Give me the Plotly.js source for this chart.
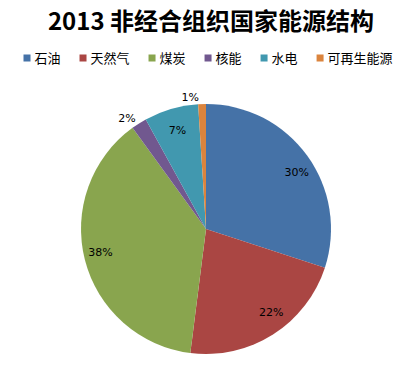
<!DOCTYPE html>
<html><head><meta charset="utf-8">
<script src="https://cdn.plot.ly/plotly-3.0.1.min.js"></script>
<style>html,body{margin:0;padding:0;background:#fff}#chart{width:401px;height:372px}</style>
</head><body><div id="chart"></div>
<script>
const categories = ['石油', '天然气', '煤炭', '核能', '水电', '可再生能源'];
const shares = [30, 22, 38, 2, 7, 1];
const colors = ['#4572A7', '#AA4643', '#89A54E', '#71588F', '#4198AF', '#DB843D'];
// which labels sit on the big pie (small slices outside it, 7% inside)
const mainLabelPos = ['none', 'none', 'none', 'outside', 'inside', 'outside'];
// big slices get their label from an invisible inner pie (placed just outside it)
const innerLabelPos = ['outside', 'outside', 'outside', 'none', 'none', 'none'];

const labelFont = {family: 'DejaVu Sans, Liberation Sans, sans-serif', size: 11, color: '#000'};

// pie geometry (paper px): centre (206,229), radius 125 ; inner label ring radius 93
const W = 401, H = 372, cx = 206, cy = 229, R = 125, r2 = 93;
const dom = (r) => ({x: [(cx - r) / W, (cx + r) / W], y: [(H - cy - r) / H, (H - cy + r) / H]});

const mainPie = {
  type: 'pie',
  labels: categories,
  values: shares,
  sort: false,
  direction: 'clockwise',
  rotation: 0,
  marker: {colors: colors, line: {width: 0}},
  texttemplate: '%{percent:.0%}',
  textposition: mainLabelPos,
  insidetextorientation: 'horizontal',
  textfont: labelFont,
  insidetextfont: labelFont,
  outsidetextfont: labelFont,
  domain: dom(R),
  hoverinfo: 'label+percent'
};

const labelPie = {
  type: 'pie',
  labels: categories,
  values: shares,
  sort: false,
  direction: 'clockwise',
  rotation: 0,
  showlegend: false,
  marker: {colors: categories.map(() => 'rgba(0,0,0,0)'), line: {width: 0}},
  texttemplate: '%{percent:.0%}',
  textposition: innerLabelPos,
  textfont: labelFont,
  outsidetextfont: labelFont,
  domain: dom(r2),
  hoverinfo: 'skip'
};

const layout = {
  width: W, height: H,
  margin: {l: 0, r: 0, t: 0, b: 0},
  paper_bgcolor: '#fff',
  title: {
    text: '<b>2013 非经合组织国家能源结构</b>',
    font: {family: 'Noto Sans CJK SC, sans-serif', size: 24, color: '#000'},
    x: 211 / W, xanchor: 'center', xref: 'paper',
    y: 1 - 22 / H, yanchor: 'middle', yref: 'container'
  },
  showlegend: true,
  legend: {
    orientation: 'h',
    x: 204 / W, xanchor: 'center',
    y: 1 - 58 / H, yanchor: 'middle',
    indentation: -15,
    itemwidth: 30,
    font: {family: 'Noto Sans CJK SC, sans-serif', size: 13, color: '#000'},
    traceorder: 'normal'
  }
};

Plotly.newPlot('chart', [mainPie, labelPie], layout, {displayModeBar: false, staticPlot: true}).then(function (gd) {
  // Excel-style small legend swatches (7px) placed just left of their text
  gd.querySelectorAll('.legend .traces').forEach(function (tr) {
    const p = tr.querySelector('path.legendpie');
    const t = tr.querySelector('text.legendtext');
    if (!p || !t) return;
    const pr = p.getBoundingClientRect();
    const tl = t.getBoundingClientRect().left;
    const pc = pr.left + pr.width / 2;
    const dx = (tl - 4 - 3.5) - pc;
    p.setAttribute('d', 'M' + (dx + 3.5) + ',3.5H' + (dx - 3.5) + 'V-3.5H' + (dx + 3.5) + 'Z');
  });
});
</script></body></html>
